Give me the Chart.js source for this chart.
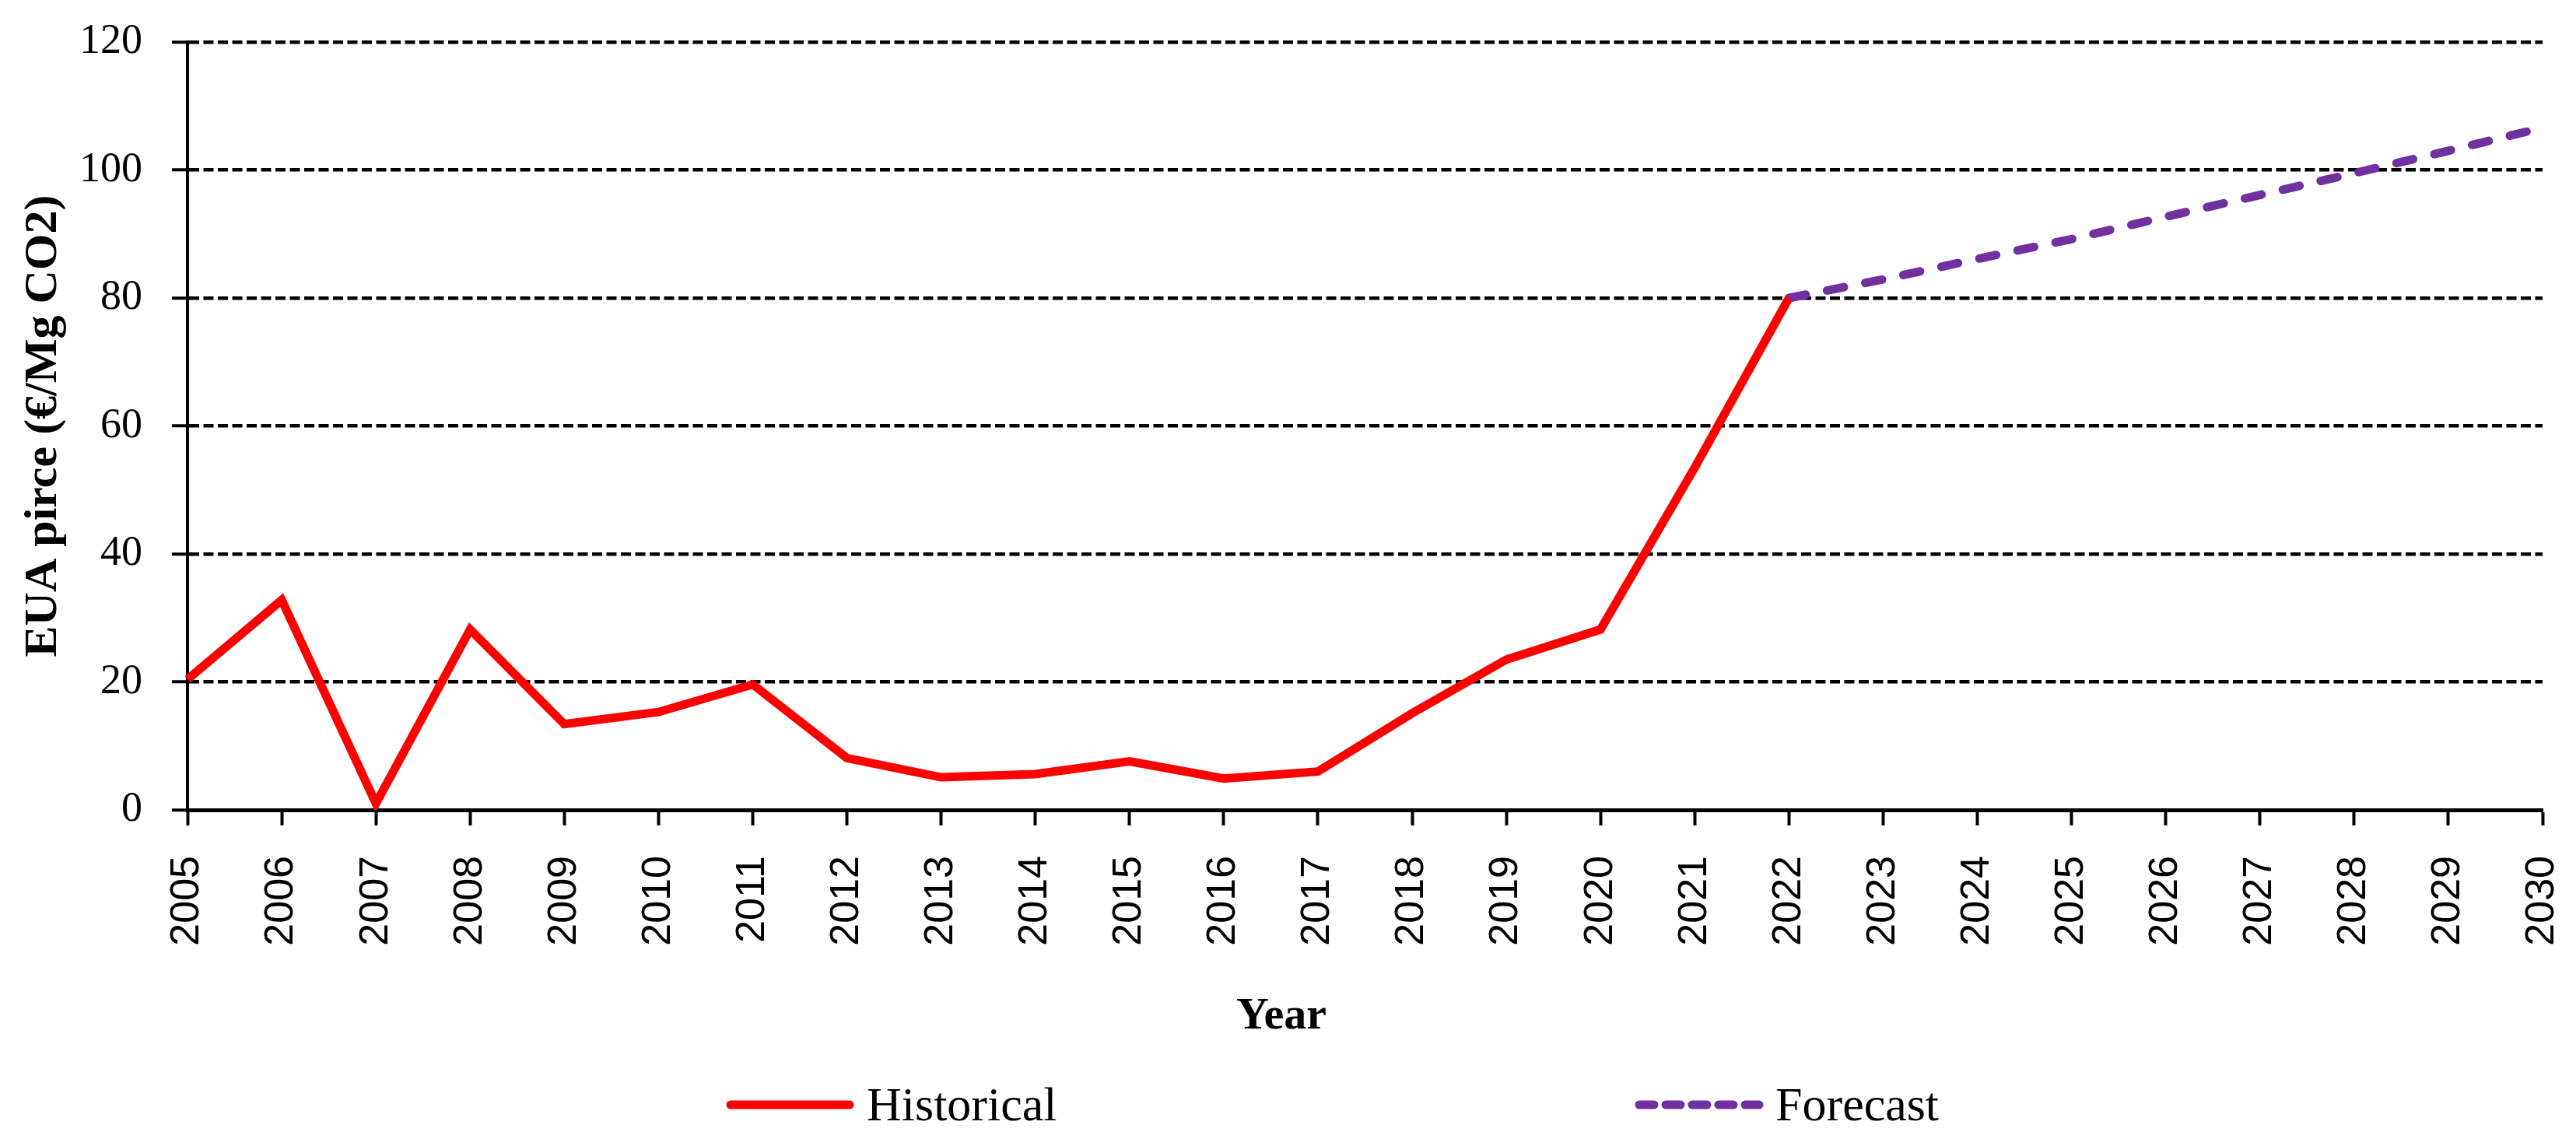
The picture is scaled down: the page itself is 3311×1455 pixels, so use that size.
<!DOCTYPE html>
<html>
<head>
<meta charset="utf-8">
<script src="https://cdn.jsdelivr.net/npm/chart.js@4"></script>
<style>
  html, body { margin: 0; padding: 0; background: #ffffff; }
  #wrap { width: 3311px; height: 1455px; }
</style>
</head>
<body>
<div id="wrap"><canvas id="c" width="3311" height="1455"></canvas></div>
<script>
const years = ['2005','2006','2007','2008','2009','2010','2011','2012','2013','2014','2015','2016','2017',
               '2018','2019','2020','2021','2022','2023','2024','2025','2026','2027','2028','2029','2030'];
const historical = [20.4, 32.8, 1.0, 28.2, 13.4, 15.3, 19.6, 8.1, 5.1, 5.6, 7.6, 4.9, 6.0,
                    15.1, 23.5, 28.2, 53.5, 80.0, null, null, null, null, null, null, null, null];
const forecast = [null, null, null, null, null, null, null, null, null, null, null, null, null,
                  null, null, null, null, 80.0, 82.9, 86.1, 89.2, 92.7, 96.1, 99.5, 103.0, 106.6];
const yTicks = [0, 20, 40, 60, 80, 100, 120];
const seriesNames = ['Historical', 'Forecast'];
const yTitle = 'EUA pirce (€/Mg CO2)';
const xTitle = 'Year';

const customText = {
  id: 'customText',
  afterDraw(chart) {
    const ctx = chart.ctx;
    ctx.save();
    // x axis title
    ctx.fillStyle = '#000';
    ctx.font = 'bold 58px "Liberation Serif"';
    ctx.textAlign = 'center';
    ctx.textBaseline = 'alphabetic';
    ctx.fillText(xTitle, 1647, 1322);
    // legend
    const items = [
      {x0: 934, x1: 1097, tx: 1114, ds: chart.data.datasets[0], dash: []},
      {x0: 2102, x1: 2266, tx: 2282, ds: chart.data.datasets[1], dash: [19, 15]}
    ];
    const ly = 1420;
    items.forEach(it => {
      ctx.save();
      ctx.strokeStyle = it.ds.borderColor;
      ctx.lineWidth = it.ds.borderWidth;
      ctx.lineCap = 'round';
      ctx.setLineDash(it.dash);
      ctx.beginPath();
      ctx.moveTo(it.x0 + 5, ly);
      ctx.lineTo(it.x1 - 5, ly);
      ctx.stroke();
      ctx.restore();
      ctx.fillStyle = '#000';
      ctx.font = '62px "Liberation Serif"';
      ctx.textAlign = 'left';
      ctx.textBaseline = 'alphabetic';
      ctx.fillText(it.ds.label, it.tx, 1440);
    });
    ctx.restore();
  }
};

new Chart(document.getElementById('c'), {
  type: 'line',
  data: {
    labels: years,
    datasets: [
      {
        label: seriesNames[0],
        data: historical,
        borderColor: '#FF0000',
        backgroundColor: '#FF0000',
        borderWidth: 11,
        pointRadius: 0,
        tension: 0,
        borderJoinStyle: 'miter',
        borderCapStyle: 'butt'
      },
      {
        label: seriesNames[1],
        data: forecast,
        borderColor: '#7030A0',
        backgroundColor: '#7030A0',
        borderWidth: 11,
        borderDash: [22, 28],
        borderCapStyle: 'round',
        pointRadius: 0,
        tension: 0
      }
    ]
  },
  options: {
    responsive: false,
    animation: false,
    devicePixelRatio: 1,
    layout: { padding: { top: 54, right: 43, left: 0, bottom: 0 } },
    plugins: {
      legend: { display: false },
      tooltip: { enabled: false }
    },
    scales: {
      x: {
        type: 'category',
        offset: false,
        afterFit(scale) {
          scale.height = 414;
          scale.paddingLeft = 20;
          scale.paddingRight = 20;
        },
        border: { display: true, color: '#000', width: 5 },
        grid: {
          display: true,
          drawOnChartArea: false,
          drawTicks: true,
          tickLength: 20,
          tickWidth: 4,
          tickColor: '#000',
          color: '#000'
        },
        ticks: {
          autoSkip: false,
          minRotation: 90,
          maxRotation: 90,
          padding: 39,
          color: '#000',
          font: { family: '"Liberation Sans", Arial, sans-serif', size: 52 }
        }
      },
      y: {
        min: 0,
        max: 120,
        afterFit(scale) {
          scale.width = 241;
          scale.paddingTop = 30;
          scale.paddingBottom = 30;
        },
        afterBuildTicks(scale) { scale.ticks = yTicks.map(v => ({ value: v })); },
        border: { display: true, color: '#000', width: 4, dash: [13, 5.5] },
        grid: {
          color: '#000',
          lineWidth: 4.5,
          drawTicks: true,
          tickLength: 20,
          tickWidth: 4,
          tickColor: '#000',
          tickBorderDash: []
        },
        ticks: {
          padding: 38,
          color: '#000',
          font: { family: '"Liberation Serif", "Times New Roman", serif', size: 54 }
        },
        title: {
          display: true,
          text: yTitle,
          color: '#000',
          padding: { top: 20, bottom: 0 },
          font: { family: '"Liberation Serif", "Times New Roman", serif', size: 60, weight: 'bold' }
        }
      }
    }
  },
  plugins: [customText]
});
</script>
</body>
</html>
